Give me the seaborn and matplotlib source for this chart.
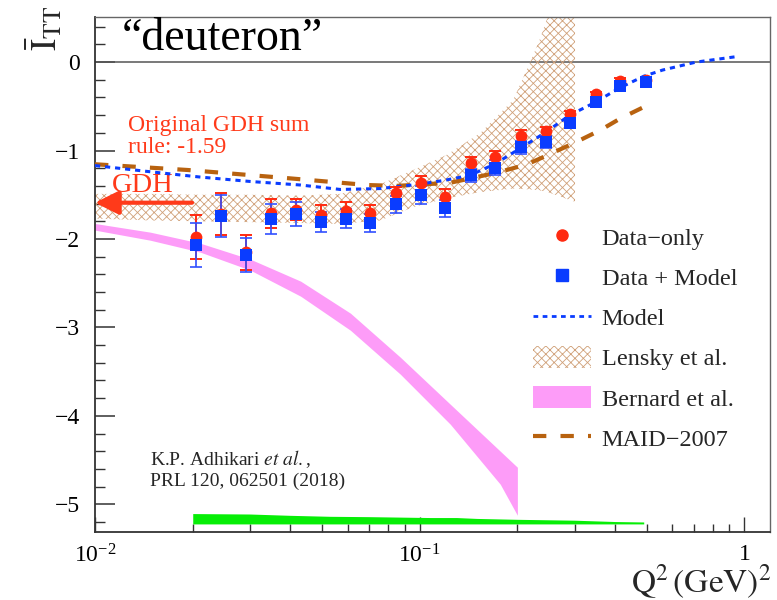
import numpy as np
import matplotlib
matplotlib.use("Agg")
import matplotlib.pyplot as plt
import seaborn as sns
from matplotlib.lines import Line2D
from matplotlib.patches import Patch
from matplotlib.ticker import FixedLocator, FixedFormatter, MultipleLocator, NullFormatter

# ---- measured points (Q^2 in GeV^2) ----
q2 = [0.0204, 0.0244, 0.0291, 0.0348, 0.0417, 0.0495, 0.0594, 0.0705, 0.0846, 0.101,
      0.120, 0.144, 0.171, 0.205, 0.245, 0.291, 0.349, 0.415, 0.497]
data_only = [-1.98, -1.72, -2.15, -1.71, -1.67, -1.73, -1.685, -1.71, -1.485, -1.37,
             -1.52, -1.146, -1.07, -0.837, -0.78, -0.588, -0.366, -0.215, -0.20]
data_only_err = [0.25, 0.24, 0.20, 0.165, 0.12, 0.11, 0.105, 0.09, 0.075, 0.085,
                 0.08, 0.07, 0.07, 0.07, 0.05, 0.04, 0.03, 0.03, 0.02]
data_model = [-2.07, -1.74, -2.18, -1.77, -1.72, -1.81, -1.77, -1.82, -1.61, -1.50,
              -1.655, -1.28, -1.195, -0.965, -0.90, -0.694, -0.449, -0.27, -0.225]
data_model_err = [0.25, 0.24, 0.19, 0.17, 0.135, 0.11, 0.11, 0.10, 0.10, 0.10,
                  0.095, 0.075, 0.085, 0.075, 0.07, 0.04, 0.03, 0.03, 0.02]

# ---- model curve ----
model_q2 = [0.01, 0.0148, 0.0211, 0.0301, 0.043, 0.0569, 0.0757, 0.100, 0.120, 0.143,
            0.171, 0.205, 0.243, 0.290, 0.345, 0.414, 0.49, 0.56, 0.71, 0.96]
model_val = [-1.17, -1.24, -1.30, -1.35, -1.39, -1.44, -1.43, -1.38, -1.335, -1.28,
             -1.15, -0.97, -0.80, -0.60, -0.46, -0.29, -0.16, -0.09, 0.0, 0.065]

# ---- MAID-2007 ----
maid_q2 = [0.01, 0.0193, 0.040, 0.069, 0.0847, 0.124, 0.173, 0.214, 0.252, 0.301, 0.360, 0.414, 0.489]
maid_val = [-1.155, -1.22, -1.315, -1.39, -1.40, -1.365, -1.25, -1.157, -1.04, -0.91, -0.77, -0.64, -0.51]

# ---- Lensky et al. band ----
lensky_q2 = [0.01, 0.0148, 0.0211, 0.0301, 0.043, 0.0569, 0.0757, 0.0955, 0.121, 0.154,
             0.194, 0.219, 0.234, 0.248, 0.301]
lensky_hi = [-1.49, -1.49, -1.50, -1.50, -1.51, -1.49, -1.38, -1.22, -1.05, -0.80,
             -0.43, 0.0, 0.25, 0.51, 2.0]
lensky_lo = [-1.77, -1.79, -1.80, -1.81, -1.82, -1.83, -1.79, -1.64, -1.54, -1.47,
             -1.43, -1.44, -1.45, -1.47, -1.58]

# ---- Bernard et al. band ----
bern_q2 = [0.0100, 0.0148, 0.0211, 0.0301, 0.0430, 0.0612, 0.0872, 0.1243, 0.1772, 0.2000]
bern_hi = [-1.825, -1.923, -2.048, -2.229, -2.477, -2.839, -3.337, -3.869, -4.400, -4.581]
bern_lo = [-1.900, -2.014, -2.149, -2.353, -2.647, -3.032, -3.529, -4.095, -4.774, -5.124]

# ---- systematic uncertainty band ----
syst_q2 = [0.0200, 0.0300, 0.0400, 0.0530, 0.0700, 0.108, 0.130, 0.150, 0.200, 0.300, 0.400, 0.490]
syst_hi = [-5.105, -5.110, -5.125, -5.136, -5.140, -5.150, -5.150, -5.160, -5.170, -5.180, -5.195, -5.200]
syst_lo = [-5.222, -5.222, -5.222, -5.222, -5.222, -5.222, -5.222, -5.222, -5.222, -5.222, -5.222, -5.222]

gdh_value = -1.59
xtick_vals = [0.01, 0.1, 1.0]
xtick_labels = [r"$\mathdefault{10^{-2}}$", r"$\mathdefault{10^{-1}}$", r"$\mathdefault{1}$"]

RED = "#ff2a10"
BLUE = "#0a3cff"
BROWN = "#b8620f"
PINK = "#fd9cf8"
GREEN = "#06ee06"
HATCH = "#d0a078"
TXT_RED = "#ff3a1a"

sns.set_theme(style="white")
plt.rcParams["font.family"] = ["Liberation Serif", "DejaVu Serif"]
plt.rcParams["mathtext.fontset"] = "stix"
plt.rcParams["hatch.linewidth"] = 0.6
plt.rcParams["axes.unicode_minus"] = True

fig = plt.figure(figsize=(7.77, 6.0), dpi=100)
ax = fig.add_axes([95 / 777, 1 - 531.7 / 600, 675 / 777, 514.7 / 600])
ax.set_xscale("log")
ax.set_xlim(0.01, 1.2)
ax.set_ylim(-5.31, 0.51)

# theory bands
ax.fill_between(bern_q2, bern_lo, bern_hi, color=PINK, linewidth=0, zorder=1)
ax.fill_between(syst_q2, syst_lo, syst_hi, color=GREEN, linewidth=0, zorder=1)
ax.fill_between(lensky_q2, lensky_lo, lensky_hi, facecolor="none", edgecolor=HATCH,
                hatch="xxxx", linewidth=0, zorder=2)

ax.axhline(0, color="#555555", lw=1.1, zorder=1)

# curves
sns.lineplot(x=maid_q2, y=maid_val, ax=ax, color=BROWN, lw=3.0,
             linestyle=(0, (3.2, 3.4)), zorder=3)
sns.lineplot(x=model_q2, y=model_val, ax=ax, color=BLUE, lw=2.2,
             linestyle=(0, (1.7, 1.6)), zorder=4)

# data with error bars
ax.errorbar(q2, data_only, yerr=data_only_err, fmt="none", ecolor=RED,
            elinewidth=1.4, capsize=4.5, capthick=1.4, zorder=5)
ax.errorbar(q2, data_model, yerr=data_model_err, fmt="none", ecolor="#3050ff",
            elinewidth=1.4, capsize=4.5, capthick=1.4, alpha=0.85, zorder=6)
sns.scatterplot(x=q2, y=data_only, ax=ax, color=RED, marker="o", s=72,
                linewidth=0, zorder=7, legend=False)
sns.scatterplot(x=q2, y=data_model, ax=ax, color=BLUE, marker="s", s=68,
                linewidth=0, zorder=8, legend=False)

# GDH sum-rule arrow
ax.annotate("", xy=(0.01, gdh_value), xytext=(0.0199, gdh_value),
            arrowprops=dict(arrowstyle="-|>,head_length=0.9,head_width=0.45",
                            color=TXT_RED, lw=3, shrinkA=0, shrinkB=0, mutation_scale=16),
            annotation_clip=False, zorder=9)

# texts
ax.text(0.04, 0.936, "\u201cdeuteron\u201d", transform=ax.transAxes, fontsize=33,
        va="baseline", ha="left", color="black")
ax.text(0.049, 0.7785, "Original GDH sum", transform=ax.transAxes, fontsize=17,
        color=TXT_RED, va="baseline")
ax.text(0.049, 0.7358, "rule: -1.59", transform=ax.transAxes, fontsize=17,
        color=TXT_RED, va="baseline")
ax.text(0.025, 0.6606, "GDH", transform=ax.transAxes, fontsize=20.5,
        color=TXT_RED, va="baseline")
ax.text(0.0815, 0.1296, r"K.P. Adhikari $\mathit{et\ al.}$,", transform=ax.transAxes,
        fontsize=14, va="baseline")
ax.text(0.0815, 0.0888, "PRL 120, 062501 (2018)", transform=ax.transAxes,
        fontsize=14, va="baseline")

fig.text(46 / 777, 0.99, r"$\bar{\mathrm{I}}_{\mathrm{TT}}$", rotation=90,
         ha="center", va="top", fontsize=26)
fig.text(772 / 777, 1 - 593 / 600, r"$\mathrm{Q}^{2}\,(\mathrm{GeV})^{2}$",
         ha="right", va="baseline", fontsize=24)

# axes styling
ax.yaxis.set_major_locator(MultipleLocator(1))
ax.yaxis.set_minor_locator(MultipleLocator(0.2))
ax.xaxis.set_major_locator(FixedLocator(xtick_vals))
ax.xaxis.set_major_formatter(FixedFormatter(xtick_labels))
ax.xaxis.set_minor_locator(FixedLocator([m * d for d in (0.01, 0.1) for m in range(2, 10)]))
ax.xaxis.set_minor_formatter(NullFormatter())
ax.tick_params(axis="both", which="both", direction="in", top=False, right=False,
               bottom=True, left=True, colors="#333333", labelcolor="black")
ax.tick_params(axis="y", which="major", length=14.4, width=1.1, labelsize=17, pad=11)
ax.tick_params(axis="y", which="minor", length=7.2, width=1.0)
ax.tick_params(axis="x", which="major", length=11, width=1.0, labelsize=17, pad=9)
ax.tick_params(axis="x", which="minor", length=5.5, width=1.0)
for s in ("left", "bottom"):
    ax.spines[s].set_color("#333333")
    ax.spines[s].set_linewidth(1.3)
for s in ("top", "right"):
    ax.spines[s].set_color("#666666")
    ax.spines[s].set_linewidth(1.0)
ax.set_xlabel("")
ax.set_ylabel("")

handles = [
    Line2D([], [], marker="o", color=RED, ls="none", ms=8),
    Line2D([], [], marker="s", color=BLUE, ls="none", ms=8),
    Line2D([], [], color=BLUE, lw=2, ls=(0, (1.7, 1.6))),
    Patch(facecolor="none", edgecolor=HATCH, hatch="xxxx", linewidth=0),
    Patch(facecolor=PINK, edgecolor="none"),
    Line2D([], [], color=BROWN, lw=3, ls=(0, (3.2, 3.4))),
]
labels = ["Data\u2212only", "Data + Model", "Model", "Lensky et al.", "Bernard et al.", "MAID\u22122007"]
ax.legend(handles, labels, loc="upper left", bbox_to_anchor=(0.649, 0.595),
          frameon=False, fontsize=17.5, handlelength=2.4, handleheight=1.0,
          handletextpad=0.42, labelspacing=0.66, borderpad=0, borderaxespad=0)

fig.savefig("out.png", dpi=100)
